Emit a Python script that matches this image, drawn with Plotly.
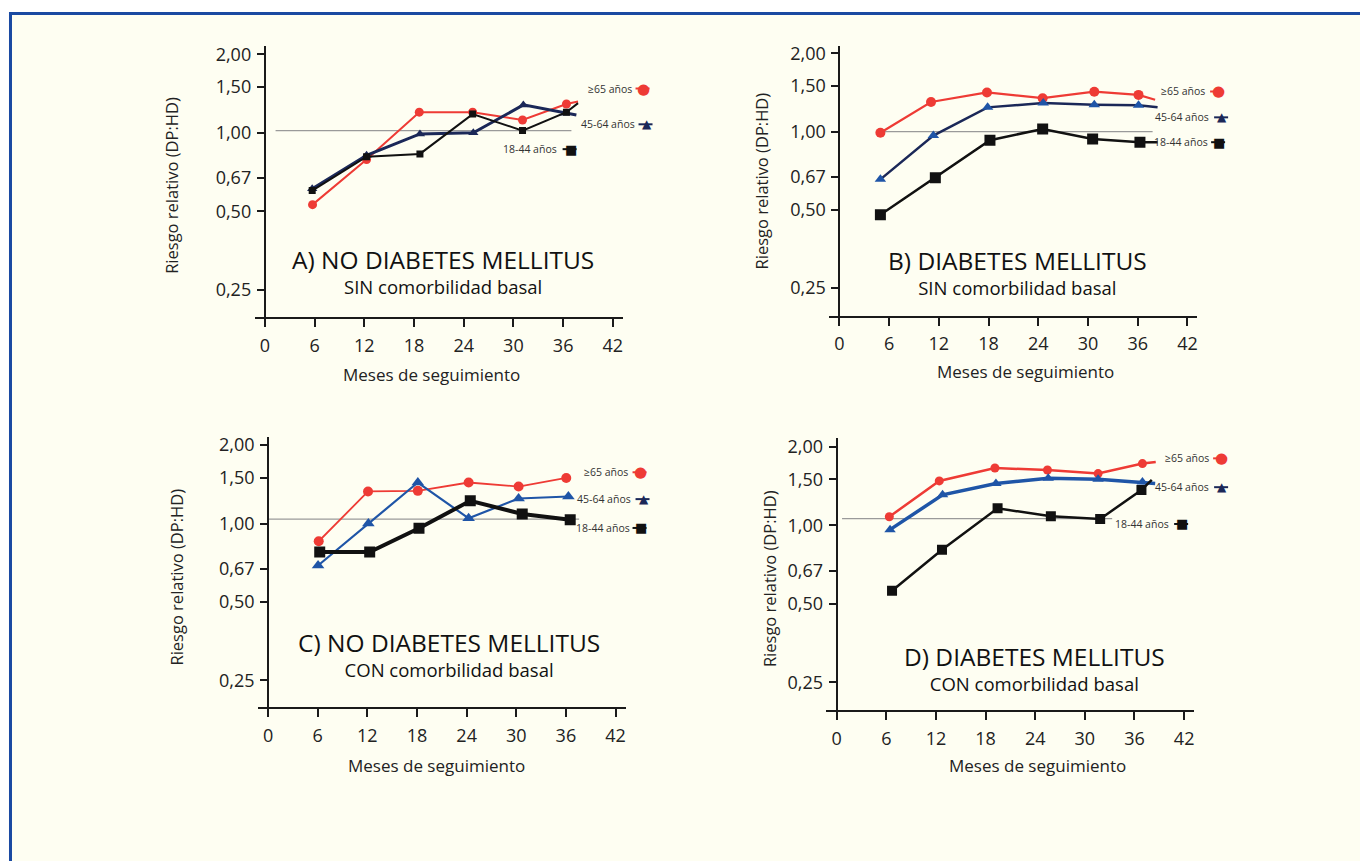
import math
import plotly.graph_objects as go

W, H = 1360, 861
FONT = "Open Sans"
DY = 3.0  # small vertical correction of the page placement (pixels)

# ---------------- data ----------------
month_ticks = [0, 6, 12, 18, 24, 30, 36, 42]
month_tick_labels = ["0", "6", "12", "18", "24", "30", "36", "42"]
rr_ticks = [0.25, 0.50, 0.67, 1.00, 1.50, 2.00]
rr_tick_labels = ["0,25", "0,50", "0,67", "1,00", "1,50", "2,00"]
groups = ["≥65 años", "45-64 años", "18-44 años"]

# Panel A: NO diabetes, SIN comorbilidad
A_x_65 = [5.76, 12.28, 18.64, 25.08, 31.1, 36.4]
A_y_65 = [0.53, 0.79, 1.20, 1.20, 1.12, 1.29]
A_x_45 = [5.72, 12.28, 18.72, 25.16, 31.2, 36.2]
A_y_45 = [0.61, 0.82, 0.99, 1.00, 1.28, 1.19]
A_x_18 = [5.72, 12.28, 18.72, 25.08, 31.1, 36.4]
A_y_18 = [0.60, 0.81, 0.83, 1.18, 1.02, 1.20]
A_end_x = [37.8, 37.6, 37.8]
A_end_y = [1.32, 1.17, 1.30]
A_ref_y = 1.02
A_ref_x = [1.3, 37.0]

# Panel B: DIABETES, SIN comorbilidad
B_x_65 = [4.95, 11.06, 17.81, 24.53, 30.76, 36.1]
B_y_65 = [0.99, 1.30, 1.415, 1.345, 1.425, 1.385]
B_x_45 = [4.95, 11.34, 17.89, 24.6, 30.76, 36.1]
B_y_45 = [0.655, 0.966, 1.24, 1.288, 1.269, 1.262]
B_x_18 = [4.95, 11.58, 18.17, 24.53, 30.56, 36.27]
B_y_18 = [0.479, 0.665, 0.927, 1.024, 0.937, 0.91]
B_end_x = [38.1, 38.4, 38.4]
B_end_y = [1.327, 1.24, 0.91]
B_ref_y = 1.00
B_ref_x = [5.0, 37.8]

# Panel C: NO diabetes, CON comorbilidad
C_x_65 = [6.12, 12.08, 18.1, 24.24, 30.28, 36.04]
C_y_65 = [0.855, 1.328, 1.335, 1.437, 1.387, 1.496]
C_x_45 = [6.04, 12.12, 18.1, 24.24, 30.28, 36.3]
C_y_45 = [0.69, 1.00, 1.437, 1.047, 1.248, 1.27]
C_x_18 = [6.24, 12.28, 18.24, 24.44, 30.72, 36.52]
C_y_18 = [0.777, 0.777, 0.959, 1.223, 1.088, 1.035]
C_end_x = None
C_end_y = None
C_ref_y = 1.04
C_ref_x = [0.0, 37.6]

# Panel D: DIABETES, CON comorbilidad
D_x_65 = [6.36, 12.4, 19.13, 25.48, 31.6, 36.96]
D_y_65 = [1.078, 1.479, 1.658, 1.628, 1.578, 1.723]
D_x_45 = [6.45, 12.8, 19.25, 25.57, 31.6, 36.96]
D_y_45 = [0.962, 1.308, 1.445, 1.514, 1.501, 1.466]
D_x_18 = [6.69, 12.73, 19.45, 25.89, 31.85, 36.84]
D_y_18 = [0.561, 0.805, 1.161, 1.082, 1.057, 1.366]
D_end_x = [38.57, 38.5, 38.09]
D_end_y = [1.747, 1.445, 1.492]
D_ref_y = 1.06
D_ref_x = [0.65, 33.3]

titles = ["A) NO DIABETES MELLITUS", "B) DIABETES MELLITUS",
          "C) NO DIABETES MELLITUS", "D) DIABETES MELLITUS"]
subtitles = ["SIN comorbilidad basal", "SIN comorbilidad basal",
             "CON comorbilidad basal", "CON comorbilidad basal"]
x_title = "Meses de seguimiento"
y_title = "Riesgo relativo (DP:HD)"

# ---------------- styles / layout (pixels) ----------------
RED = "#ee3b35"
NAVY = "#1b2858"
BLUE = "#1f55a7"
BLACK = "#111111"

panels = [
    dict(data=[(A_x_65, A_y_65), (A_x_45, A_y_45), (A_x_18, A_y_18)],
         end=(A_end_x, A_end_y), ref=(A_ref_x, A_ref_y),
         yax=265, x42=613.3, xl=255, xr=623, ytop=44, ybot=317, y2=52.7, y025=289.3,
         colors=[(RED, RED), (NAVY, NAVY), (BLACK, BLACK)],
         widths=[2, 3, 2], msizes=[9, 9, 7],
         title=(443, 258), sub=(443, 285), xt=(432, 375), yt=(172, 184),
         leg=[(634, 87, 644), (637, 123, 647), (559, 148, 571)]),
    dict(data=[(B_x_65, B_y_65), (B_x_45, B_y_45), (B_x_18, B_y_18)],
         end=(B_end_x, B_end_y), ref=(B_ref_x, B_ref_y),
         yax=840, x42=1188.3, xl=830, xr=1198, ytop=44, ybot=315.7, y2=51.7, y025=287.7,
         colors=[(RED, RED), (NAVY, BLUE), (BLACK, BLACK)],
         widths=[2.2, 2.5, 2.5], msizes=[10, 10, 11],
         title=(1018, 260), sub=(1018, 286), xt=(1026, 372), yt=(763, 180),
         leg=[(1208, 90, 1219), (1212, 116, 1223), (1211, 141, 1220)]),
    dict(data=[(C_x_65, C_y_65), (C_x_45, C_y_45), (C_x_18, C_y_18)],
         end=(C_end_x, C_end_y), ref=(C_ref_x, C_ref_y),
         yax=268.3, x42=616, xl=258.3, xr=626, ytop=437.3, ybot=709.3, y2=445.7, y025=682.3,
         colors=[(RED, RED), (BLUE, BLUE), (BLACK, BLACK)],
         widths=[1.8, 2.2, 4], msizes=[10, 11, 11],
         title=(449, 643), sub=(449, 670), xt=(437, 768), yt=(177, 578),
         leg=[(630, 473, 641), (633, 500, 644), (632, 529, 641)]),
    dict(data=[(D_x_65, D_y_65), (D_x_45, D_y_45), (D_x_18, D_y_18)],
         end=(D_end_x, D_end_y), ref=(D_ref_x, D_ref_y),
         yax=837.3, x42=1185, xl=826.7, xr=1195, ytop=439, ybot=712.3, y2=447.3, y025=684.3,
         colors=[(RED, RED), (BLUE, BLUE), (BLACK, BLACK)],
         widths=[2.5, 3.5, 2.5], msizes=[9, 10, 10],
         title=(1035, 657), sub=(1035, 685), xt=(1038, 768), yt=(770, 580),
         leg=[(1212, 459, 1222), (1212, 488, 1223), (1172, 525, 1183)]),
]
symbols = ["circle", "triangle-up", "square"]
leg_glyph = [("●", RED, 15), ("▲", NAVY, 12), ("■", BLACK, 13)]


def px(x):
    return x / W


def py(y):
    return 1 - (y - DY) / H


fig = go.Figure()
layout = dict(width=W, height=H, margin=dict(l=0, r=0, t=0, b=0),
              paper_bgcolor="white", plot_bgcolor="rgba(0,0,0,0)",
              showlegend=False, font=dict(family=FONT, color="#222"))
annotations = []
shapes = [dict(type="rect", xref="paper", yref="paper", layer="below",
               x0=10.5 / W, x1=1.2, y0=-0.2, y1=py(11.5),
               fillcolor="#fefef2", line=dict(color="#1a4aa2", width=3))]

for i, p in enumerate(panels):
    n = i + 1
    xa = "x" if n == 1 else f"x{n}"
    ya = "y" if n == 1 else f"y{n}"
    ppm = (p["x42"] - p["yax"]) / 42.0
    xr0 = -(p["yax"] - p["xl"]) / ppm
    xr1 = (p["xr"] - p["yax"]) / ppm
    k = (p["y025"] - p["y2"]) / (math.log10(2.0) - math.log10(0.25))
    yr1 = math.log10(2.0) + (p["y2"] - p["ytop"]) / k
    yr0 = math.log10(0.25) - (p["ybot"] - p["y025"]) / k

    layout["xaxis" if n == 1 else f"xaxis{n}"] = dict(
        domain=[px(p["xl"]), px(p["xr"])], range=[xr0, xr1], anchor=ya,
        showgrid=False, zeroline=False, showline=True, linecolor="#1a1a1a", linewidth=2,
        ticks="outside", ticklen=8, tickwidth=2, tickcolor="#1a1a1a",
        tickvals=month_ticks, ticktext=month_tick_labels, ticklabelstandoff=3,
        tickfont=dict(size=18, color="#222", family=FONT))
    layout["yaxis" if n == 1 else f"yaxis{n}"] = dict(
        domain=[py(p["ybot"]), py(p["ytop"])], type="log", range=[yr0, yr1],
        anchor="free", position=px(p["yax"]),
        showgrid=False, zeroline=False, showline=True, linecolor="#1a1a1a", linewidth=2,
        ticks="outside", ticklen=7, tickwidth=2, tickcolor="#1a1a1a",
        tickvals=rr_ticks, ticktext=rr_tick_labels, ticklabelstandoff=2,
        tickfont=dict(size=18, color="#222", family=FONT))

    rx, ry = p["ref"]
    fig.add_trace(go.Scatter(x=rx, y=[ry, ry], mode="lines", xaxis=xa, yaxis=ya,
                             line=dict(color="#9a9a9a", width=1.2), hoverinfo="skip"))
    ex, ey = p["end"]
    for g in range(3):
        xs, ys = p["data"][g]
        lc, mc = p["colors"][g]
        lx = list(xs) + ([ex[g]] if ex else [])
        ly = list(ys) + ([ey[g]] if ey else [])
        fig.add_trace(go.Scatter(x=lx, y=ly, mode="lines", xaxis=xa, yaxis=ya,
                                 line=dict(color=lc, width=p["widths"][g]), name=groups[g]))
        fig.add_trace(go.Scatter(x=xs, y=ys, mode="markers", xaxis=xa, yaxis=ya,
                                 marker=dict(symbol=symbols[g], size=p["msizes"][g], color=mc,
                                             line=dict(width=0)), name=groups[g]))

    ty_mid = (p["title"][1] + p["sub"][1]) / 2.0
    annotations.append(dict(
        x=px((p["title"][0] + p["sub"][0]) / 2.0), y=py(ty_mid - 1), xref="paper", yref="paper",
        text=(f"<span style='font-size:24.5px'>{titles[i]}</span><br>"
              f"<span style='font-size:18.5px'>{subtitles[i]}</span>"),
        showarrow=False, xanchor="center", yanchor="middle", align="center",
        font=dict(size=19.5, color="#111", family=FONT)))
    annotations.append(dict(x=px(p["xt"][0]), y=py(p["xt"][1]), xref="paper", yref="paper",
                            text=x_title, showarrow=False, xanchor="center", yanchor="middle",
                            font=dict(size=17, color="#222", family=FONT)))
    annotations.append(dict(x=px(p["yt"][0]), y=py(p["yt"][1]), xref="paper", yref="paper",
                            text=y_title, showarrow=False, xanchor="center", yanchor="middle",
                            textangle=-90, font=dict(size=16.5, color="#222", family=FONT)))
    for g in range(3):
        tr, tyl, mx = p["leg"][g]
        annotations.append(dict(x=px(tr), y=py(tyl), xref="paper", yref="paper",
                                text=groups[g], showarrow=False, xanchor="right", yanchor="middle",
                                font=dict(size=10.5, color="#333", family=FONT)))
        gl, gc, gs = leg_glyph[g]
        shapes.append(dict(type="line", xref="paper", yref="paper",
                           x0=px(mx - 8), x1=px(mx + 6), y0=py(tyl), y1=py(tyl),
                           line=dict(color=gc, width=2)))
        annotations.append(dict(x=px(mx), y=py(tyl), xref="paper", yref="paper",
                                text=gl, showarrow=False, xanchor="center", yanchor="middle",
                                font=dict(size=gs, color=gc, family="DejaVu Sans")))

layout["annotations"] = annotations
layout["shapes"] = shapes
fig.update_layout(**layout)
fig.write_html(
    "out.html",
    config={"displayModeBar": False},
    post_script=("document.body.style.margin='0px';document.body.style.overflow='hidden';"
                 "var gd=document.getElementById('{plot_id}');"
                 "gd.style.position='absolute';gd.style.left='0px';gd.style.top='0px';"))
